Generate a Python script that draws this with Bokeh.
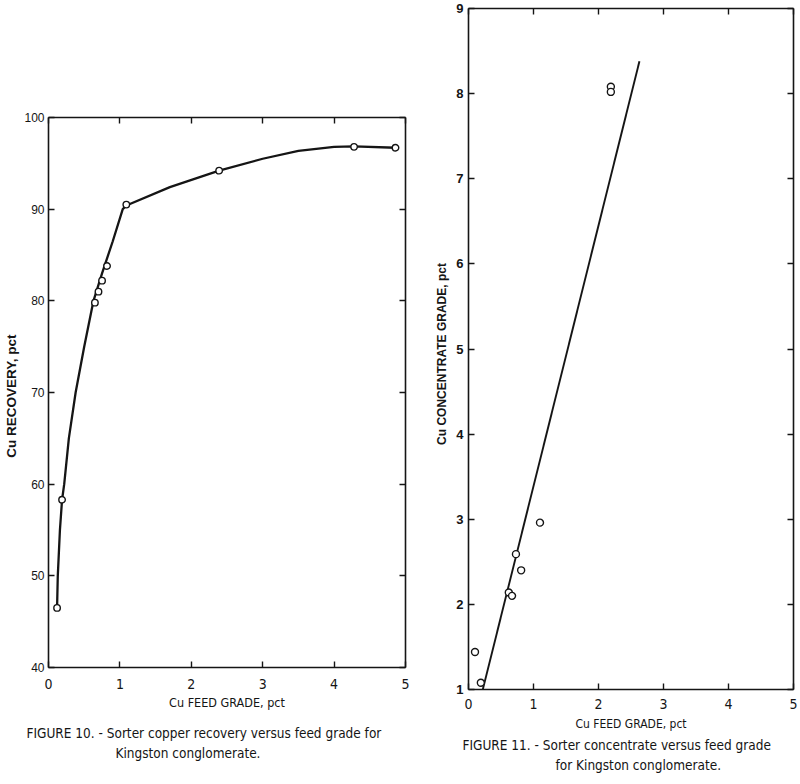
from bokeh.plotting import figure
from bokeh.models import LinearAxis, Range1d, Title, FixedTicker
from bokeh.layouts import row
from bokeh.embed import file_html
from bokeh.resources import INLINE

# ---------------- FIGURE 10 data ----------------
rec_feed = [0.12, 0.19, 0.65, 0.70, 0.75, 0.82, 1.09, 2.39, 4.28, 4.86]
rec_pct = [46.5, 58.3, 79.8, 81.0, 82.2, 83.8, 90.5, 94.2, 96.8, 96.7]
rec_curve_x = [0.12, 0.13, 0.16, 0.19, 0.22, 0.285, 0.38, 0.50, 0.63, 0.75, 0.90, 1.04, 1.09, 1.70, 2.39, 3.00, 3.50, 4.00, 4.28, 4.86]
rec_curve_y = [46.5, 50.0, 55.0, 58.3, 60.0, 65.0, 70.0, 75.0, 80.0, 83.0, 86.5, 90.0, 90.4, 92.4, 94.2, 95.5, 96.35, 96.8, 96.85, 96.7]
rec_xticks = [0, 1, 2, 3, 4, 5]
rec_yticks = [40, 50, 60, 70, 80, 90, 100]

# ---------------- FIGURE 11 data ----------------
conc_feed = [0.10, 0.19, 0.62, 0.67, 0.73, 0.81, 1.10, 2.19, 2.19]
conc_grade = [1.44, 1.08, 2.14, 2.10, 2.59, 2.40, 2.96, 8.08, 8.02]
fit_x = [0.22, 2.63]
fit_y = [1.0, 8.38]
conc_xticks = [0, 1, 2, 3, 4, 5]
conc_yticks = [1, 2, 3, 4, 5, 6, 7, 8, 9]

INK = "#151515"
COND = "DejaVu Sans Condensed"
SANS = "Liberation Sans"


def style_axis(ax, labels=True):
    ax.axis_line_color = INK
    ax.axis_line_width = 1.6
    ax.major_tick_line_color = INK
    ax.major_tick_line_width = 1.4
    ax.major_tick_in = 6
    ax.major_tick_out = 0
    ax.minor_tick_line_color = None
    if not labels:
        ax.major_label_text_color = None
        ax.major_label_text_font_size = "0px"


def make_fig(width, xr, yr, xt, yt, borders):
    l, r, t, b = borders
    p = figure(width=width, height=784, x_range=Range1d(*xr), y_range=Range1d(*yr),
               output_backend="svg", toolbar_location=None,
               min_border_left=l, min_border_right=r, min_border_top=t, min_border_bottom=b,
               background_fill_color="white", border_fill_color="white",
               frame_align=False)
    p.outline_line_color = None
    p.grid.visible = False
    bottom = p.below[0]
    left = p.left[0]
    bottom.ticker = FixedTicker(ticks=xt)
    left.ticker = FixedTicker(ticks=yt)
    style_axis(bottom)
    style_axis(left)
    top = LinearAxis(ticker=FixedTicker(ticks=xt))
    right = LinearAxis(ticker=FixedTicker(ticks=yt))
    style_axis(top, labels=False)
    style_axis(right, labels=False)
    p.add_layout(top, "above")
    p.add_layout(right, "right")
    return p, bottom, left


def caption(p, text, offset, standoff):
    t = Title(text=text, align="left", offset=offset, standoff=standoff,
              text_font=COND, text_font_size="13.5px", text_font_style="normal",
              text_color=INK)
    p.add_layout(t, "below")


# ---------- left figure ----------
p1, bx1, ly1 = make_fig(430, (0, 5), (40, 100), rec_xticks, rec_yticks, (48, 25, 117, 117))
bx1.major_label_text_font = COND
bx1.major_label_text_font_size = "14px"
bx1.major_label_text_color = INK
bx1.major_label_standoff = 11
bx1.axis_label = "Cu FEED GRADE, pct"
bx1.axis_label_text_font = COND
bx1.axis_label_text_font_style = "normal"
bx1.axis_label_text_font_size = "12.5px"
bx1.axis_label_text_color = INK
bx1.axis_label_standoff = 3
ly1.major_label_text_font = SANS
ly1.major_label_text_font_size = "12px"
ly1.major_label_text_color = INK
ly1.major_label_standoff = 4
ly1.axis_label = "Cu  RECOVERY,  pct"
ly1.axis_label_text_font = SANS
ly1.axis_label_text_font_style = "bold"
ly1.axis_label_text_font_size = "13.5px"
ly1.axis_label_text_color = INK
ly1.axis_label_standoff = 2

p1.line(rec_curve_x, rec_curve_y, line_width=2.3, line_color=INK)
p1.scatter(rec_feed, rec_pct, marker="circle", size=6.5, fill_color="white",
           line_color=INK, line_width=1.4)

caption(p1, "FIGURE 10. - Sorter copper recovery versus feed grade for", -22, 21)
caption(p1, "Kingston conglomerate.", 67, -18)

# ---------- right figure ----------
p2, bx2, ly2 = make_fig(370, (0, 5), (1, 9), conc_xticks, conc_yticks, (38, 7, 8, 95))
bx2.major_label_text_font = COND
bx2.major_label_text_font_size = "14px"
bx2.major_label_text_color = INK
bx2.major_label_standoff = 9
bx2.axis_label = "Cu FEED GRADE, pct"
bx2.axis_label_text_font = COND
bx2.axis_label_text_font_style = "normal"
bx2.axis_label_text_font_size = "12px"
bx2.axis_label_text_color = INK
bx2.axis_label_standoff = 5
ly2.major_label_text_font = SANS
ly2.major_label_text_font_size = "13px"
ly2.major_label_text_font_style = "bold"
ly2.major_label_text_color = INK
ly2.major_label_standoff = 5
ly2.axis_label = "Cu  CONCENTRATE  GRADE,  pct"
ly2.axis_label_text_font = SANS
ly2.axis_label_text_font_style = "bold"
ly2.axis_label_text_font_size = "12px"
ly2.axis_label_text_color = INK
ly2.axis_label_standoff = 4

p2.line(fit_x, fit_y, line_width=1.9, line_color=INK)
p2.scatter(conc_feed, conc_grade, marker="circle", size=7, fill_color="white",
           line_color=INK, line_width=1.4)

caption(p2, "FIGURE 11. - Sorter concentrate versus feed grade", -6, 2)
caption(p2, "for Kingston conglomerate.", 87, 3)

layout = row(p1, p2)
open("out.html", "w").write(file_html(layout, INLINE))
